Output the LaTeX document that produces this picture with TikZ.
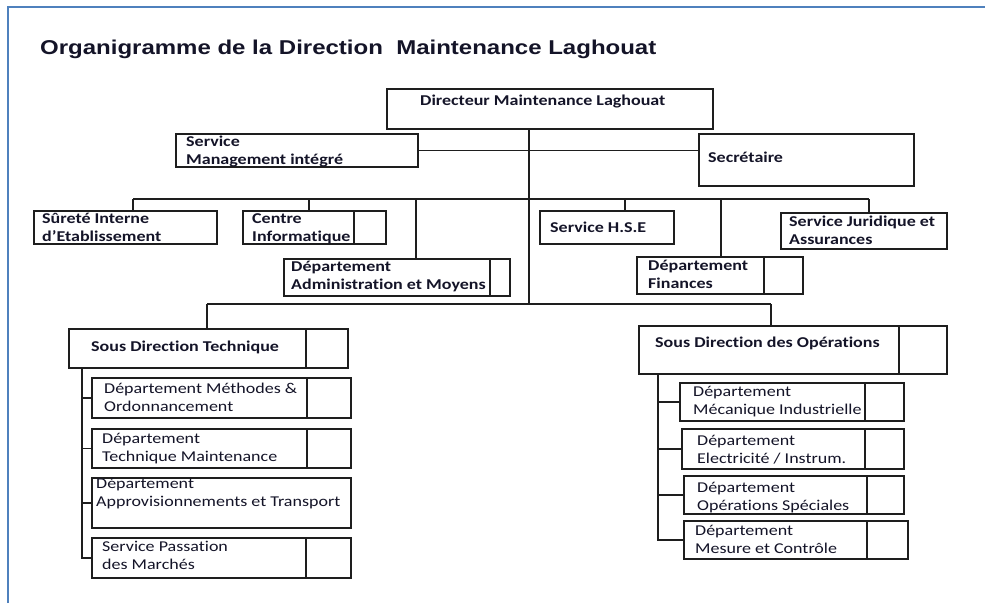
\documentclass[tikz,border=0pt]{standalone}
\usepackage{fontspec}
\setmainfont{Carlito}[FakeStretch=1.2,Ligatures=NoCommon]
\newfontfamily\titlefont{Liberation Sans}[FakeStretch=1.2]
\definecolor{framec}{RGB}{79,129,189}
\definecolor{linec}{RGB}{30,30,30}
\definecolor{txtc}{RGB}{20,20,40}
\newcommand\twol[2]{\vtop{\baselineskip=18.4pt\hbox{#1}\hbox{#2}}}
\newcommand\obox[5]{\node[box, minimum width={(#4-#2)*1pt}, minimum height={(#5-#3)*1pt}] (#1) at ({(#2+#4)/2},{(#3+#5)/2}) {};}
\newcommand\odiv[2]{\path (#2,0) coordinate (#1-dx); \draw[conn] (#1.north -| #1-dx) -- (#1.south -| #1-dx);}
\tikzset{
  box/.style={draw=linec, line width=1.8pt, rectangle, inner sep=0pt, fill=white},
  conn/.style={draw=linec, line width=1.8pt},
  lb/.style={anchor=base west, inner sep=0pt, text=txtc, font=\fontsize{15}{18.4}\selectfont\bfseries},
  lr/.style={anchor=base west, inner sep=0pt, text=txtc, font=\fontsize{15}{18.4}\selectfont},
}
\begin{document}
\begin{tikzpicture}[x=1pt,y=-1pt]
\useasboundingbox (0,0) rectangle (985,603);
\fill[white] (0,0) rectangle (985,603);
% frame
\draw[framec, line width=2pt] (8,603) -- (8,7) -- (985,7);
% title
\node[anchor=base west, inner sep=0pt, text=txtc, font={\titlefont\fontsize{20}{24}\selectfont\bfseries}] (title) at (40,54) {Organigramme de la Direction\ \ Maintenance Laghouat};

% coordinates for connectors
\coordinate (tk) at (529,304);
\coordinate (b1a) at (133,199);
\coordinate (b1b) at (309,199);
\coordinate (b1c) at (416,199);
\coordinate (b1d) at (625,199);
\coordinate (b1e) at (721,199);
\coordinate (b1f) at (869,199);
\coordinate (b2a) at (207,304);
\coordinate (b2b) at (771,304);
\coordinate (sp1) at (82,0);
\coordinate (sp2) at (658,0);

% boxes
\obox{dir}{387}{89}{713}{129}
\obox{smi}{176}{134}{418}{167}
\obox{sec}{699}{134}{914}{186}
\obox{sur}{34}{211}{217}{244}
\obox{cin}{243}{211}{386}{244}
\obox{adm}{284}{259}{510}{296}
\obox{hse}{540}{211}{674}{244}
\obox{fin}{637}{257}{803}{294}
\obox{jur}{781}{213}{947}{249}
\obox{sdt}{69}{329}{348}{368}
\obox{sdo}{639}{326}{947}{374}
\obox{t1}{92}{378}{351}{418}
\obox{t2}{92}{429}{351}{468}
\obox{t3}{92}{478}{351}{528}
\obox{t4}{92}{538}{351}{578}
\obox{o1}{680}{383}{904}{421}
\obox{o2}{682}{429}{904}{469}
\obox{o3}{684}{476}{904}{514}
\obox{o4}{684}{521}{908}{559}

% connectors
\draw[conn] (tk |- dir.south) -- (tk);
\draw[conn] (smi.east) -- (smi.east -| sec.west);
\draw[conn] (b1a) -- (b1f);
\draw[conn] (b1a) -- (b1a |- sur.north);
\draw[conn] (b1b) -- (b1b |- cin.north);
\draw[conn] (b1c) -- (b1c |- adm.north);
\draw[conn] (b1d) -- (b1d |- hse.north);
\draw[conn] (b1e) -- (b1e |- fin.north);
\draw[conn] (b1f) -- (b1f |- jur.north);
\draw[conn] (b2a) -- (b2b);
\draw[conn] (b2a) -- (b2a |- sdt.north);
\draw[conn] (b2b) -- (b2b |- sdo.north);
\draw[conn] (sp1 |- sdt.south) -- (sp1 |- t4.west) -- (t4.west);
\draw[conn] (sp1 |- t1.west) -- (t1.west);
\draw[conn] (sp1 |- t2.west) -- (t2.west);
\draw[conn] (sp1 |- t3.west) -- (t3.west);
\draw[conn] (sp2 |- sdo.south) -- (sp2 |- o4.west) -- (o4.west);
\draw[conn] (sp2 |- o1.west) -- (o1.west);
\draw[conn] (sp2 |- o2.west) -- (o2.west);
\draw[conn] (sp2 |- o3.west) -- (o3.west);

% texts
\node[lb] (dir-t) at (420,105.5) {Directeur Maintenance Laghouat};
\node[lb] (smi-t) at (186,146.5) {\twol{Service}{Management intégré}};
\node[lb] (sec-t) at (708,162.5) {Secrétaire};
\node[lb] (sur-t) at (42,223.5) {\twol{Sûreté Interne}{d’Etablissement}};
\node[lb] (cin-t) at (252,223.5) {\twol{Centre}{Informatique}};
\node[lb] (adm-t) at (291,271) {\twol{Département}{Administration et Moyens}};
\node[lb] (hse-t) at (550,232) {Service H.S.E};
\node[lb] (fin-t) at (648,270.5) {\twol{Département}{Finances}};
\node[lb] (jur-t) at (789,226.5) {\twol{Service Juridique et}{Assurances}};
\node[lb] (sdt-t) at (91,351.5) {Sous Direction Technique};
\node[lb] (sdo-t) at (655,347.5) {Sous Direction des Opérations};
\node[lr] (t1-t) at (104,393.5) {\twol{Département Méthodes \&}{Ordonnancement}};
\node[lr] (t2-t) at (102,443.5) {\twol{Département}{Technique Maintenance}};
\node[lr] (t3-t) at (96,488.5) {\twol{Département}{Approvisionnements et Transport}};
\node[lr] (t4-t) at (102,551.5) {\twol{Service Passation}{des Marchés}};
\node[lr] (o1-t) at (693,396.5) {\twol{Département}{Mécanique Industrielle}};
\node[lr] (o2-t) at (697,445.5) {\twol{Département}{Electricité / Instrum.}};
\node[lr] (o3-t) at (697,492.5) {\twol{Département}{Opérations Spéciales}};
\node[lr] (o4-t) at (695,535.5) {\twol{Département}{Mesure et Contrôle}};

% dividers
\odiv{cin}{354}
\odiv{adm}{490}
\odiv{fin}{764}
\odiv{sdt}{306}
\odiv{sdo}{899}
\odiv{t1}{307}
\odiv{t2}{307}
\odiv{t4}{306}
\odiv{o1}{865}
\odiv{o2}{865}
\odiv{o3}{867}
\odiv{o4}{867}
\end{tikzpicture}
\end{document}
